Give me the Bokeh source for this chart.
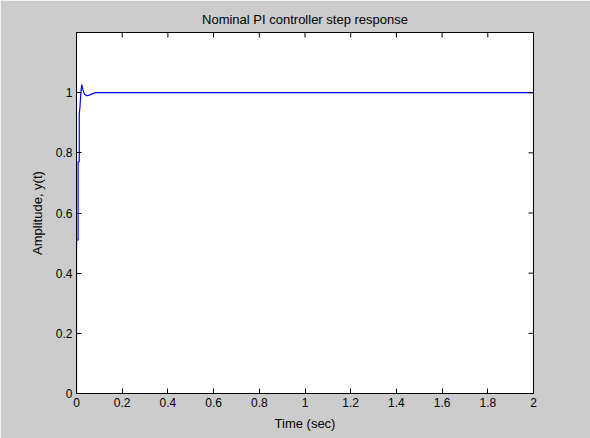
import math
from bokeh.plotting import figure
from bokeh.models import FixedTicker, Range1d
from bokeh.embed import file_html
from bokeh.resources import INLINE

# Step response samples
time_s = [0.0, 0.0, 0.007, 0.007, 0.012, 0.012, 0.015, 0.019, 0.023, 0.028,
          0.035, 0.045, 0.053, 0.065, 0.083, 0.12, 0.5, 1.0, 1.5, 2.0]
amplitude = [0.0, 0.51, 0.51, 0.77, 0.77, 0.93, 0.95, 1.0, 1.027, 1.01,
             0.995, 0.99, 0.991, 0.995, 1.0, 1.0, 1.0, 1.0, 1.0, 1.0]

x_ticks = [0, 0.2, 0.4, 0.6, 0.8, 1.0, 1.2, 1.4, 1.6, 1.8, 2.0]
x_tick_labels = ["0", "0.2", "0.4", "0.6", "0.8", "1", "1.2", "1.4", "1.6", "1.8", "2"]
y_ticks = [0, 0.2, 0.4, 0.6, 0.8, 1.0]
y_tick_labels = ["0", "0.2", "0.4", "0.6", "0.8", "1"]
x_min, x_max = 0, 2
y_min, y_max = 0, 1.2

FONT = "Liberation Sans"
BG = "#cccccc"

p = figure(width=590, height=438, output_backend="svg", toolbar_location=None,
           x_range=Range1d(x_min, x_max), y_range=Range1d(y_min, y_max),
           min_border_left=76, min_border_right=57, min_border_top=32, min_border_bottom=45)
p.background_fill_color = "white"
p.border_fill_color = BG
p.outline_line_color = "black"
p.outline_line_width = 1
p.grid.visible = False

p.title.text = "Nominal PI controller step response"
p.title.align = "center"
p.title.text_font = FONT
p.title.text_font_size = "13px"
p.title.text_font_style = "normal"
p.title.text_color = "black"
p.title.standoff = 12

p.line(time_s, amplitude, line_color="#0000ff", line_width=1.2)

# inward tick marks on the top and right edges of the box
p.scatter(x_ticks, [y_max] * len(x_ticks), marker="dash", size=10, angle=math.pi / 2,
          line_color="black", line_width=1)
p.scatter([x_max] * len(y_ticks), y_ticks, marker="dash", size=10,
          line_color="black", line_width=1)

def style(ax):
    ax.axis_line_color = "black"
    ax.major_tick_in = 5
    ax.major_tick_out = 0
    ax.minor_tick_in = 0
    ax.minor_tick_out = 0
    ax.major_tick_line_color = "black"
    ax.major_label_text_font = FONT
    ax.major_label_text_font_size = "12px"
    ax.major_label_text_color = "black"
    ax.axis_label_text_font = FONT
    ax.axis_label_text_font_size = "13px"
    ax.axis_label_text_font_style = "normal"
    ax.axis_label_text_color = "black"

xa = p.xaxis[0]
xa.ticker = FixedTicker(ticks=x_ticks)
xa.major_label_overrides = {t: l for t, l in zip(x_ticks, x_tick_labels)}
xa.axis_label = "Time (sec)"
style(xa)
xa.major_label_standoff = 4
xa.axis_label_standoff = 6

ya = p.yaxis[0]
ya.ticker = FixedTicker(ticks=y_ticks)
ya.major_label_overrides = {t: l for t, l in zip(y_ticks, y_tick_labels)}
ya.axis_label = "Amplitude, y(t)"
style(ya)
ya.major_label_standoff = 4
ya.axis_label_standoff = 8

open("out.html", "w").write(file_html(p, INLINE))
